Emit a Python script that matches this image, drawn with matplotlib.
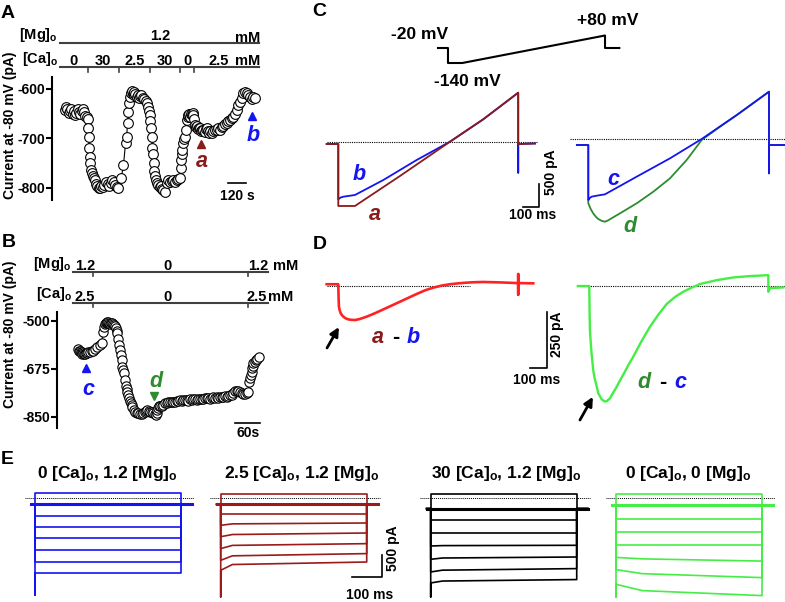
import matplotlib.pyplot as plt

W, H = 785, 602
plt.rcParams['font.family'] = ['Liberation Sans', 'DejaVu Sans']
plt.rcParams['font.weight'] = 'bold'
plt.rcParams['axes.unicode_minus'] = False
plt.rcParams['mathtext.fontset'] = 'custom'
plt.rcParams['mathtext.rm'] = 'Liberation Sans:bold'
plt.rcParams['mathtext.it'] = 'Liberation Sans:bold:italic'
plt.rcParams['mathtext.bf'] = 'Liberation Sans:bold'

DARKRED = '#8b1a1a'
BLUE = '#1414f0'
GREEN = '#2e8b2e'
LIME = '#44ee44'
RED = '#ff2222'
GREY = '#404040'

# ---------------- data ----------------
# A: holding current at -80 mV vs time (s, pA)
a_time = [22, 30, 38, 46, 55, 63, 72, 80, 88, 96, 105, 113, 121, 130, 138, 146, 155, 163, 170,
          174, 176, 179, 183, 187, 192, 197, 203, 210, 218, 226, 234, 242, 251, 260, 270, 280, 290,
          300, 310, 320, 330, 340, 350, 360, 371, 390, 404, 418, 425, 431, 436, 442, 447, 453, 458,
          464, 470, 476, 482, 490, 498, 506, 514, 522, 530, 540, 550, 558, 565, 571, 576, 580, 584,
          589, 593, 598, 602, 606, 611, 617, 624, 632, 640, 648, 656, 665, 676, 687, 698, 709, 720,
          731, 742, 752, 763, 774, 778, 780, 785, 789, 796, 802, 807, 813, 818, 824, 829, 835, 840,
          846, 851, 856, 861, 866, 872, 877, 883, 890, 897, 905, 912, 920, 927, 935, 942, 949, 956,
          963, 970, 981, 992, 1003, 1014, 1025, 1036, 1047, 1058, 1069, 1080, 1090, 1101, 1112, 1123,
          1134, 1145, 1156, 1167, 1178, 1189, 1200, 1210, 1221, 1232, 1243, 1254, 1265]
a_curr = [-643, -636, -641, -648, -645, -640, -650, -645, -652, -648, -641, -646, -650, -644, -640,
          -647, -655, -657, -661,
          -680, -697, -719, -738, -750, -764, -770, -776, -780, -784, -792, -797, -800, -800, -797,
          -799, -795, -789, -793, -797, -790, -785, -788, -795, -798, -801, -780, -755, -710, -697,
          -670, -646, -628, -616, -608, -605, -610, -613, -606, -610, -616, -612, -618, -615, -612,
          -618, -620, -624, -628, -636, -645, -652, -665, -680, -697, -720, -732, -750, -766, -776,
          -784, -790, -795, -798, -797, -802, -805, -808, -790, -784, -788, -786, -784, -788, -784,
          -782, -781, -760, -744, -732, -724, -710, -702, -697, -683, -663, -656, -653, -650, -656,
          -650, -653, -648, -653, -662, -673, -678, -676, -682, -679, -680, -686, -683, -683, -688,
          -682, -680, -686, -689, -686, -690, -686, -684, -683, -679, -683, -677, -676, -672, -670,
          -666, -663, -660, -656, -650, -643, -633, -626, -618, -609, -606, -609, -613, -616, -620,
          -616, -619]
a_yticks = [-600, -700, -800]
a_ca_switch = [172, 375, 578, 774, 868]
a_mark_t = [911, 1243]
a_mark_i = [-711, -655]

# B
b_time = [4, 6, 8, 10, 12, 14, 16, 18, 20, 22, 24, 28, 32, 36, 40, 45, 50, 55, 60, 64, 66, 68, 70,
          72, 74, 76, 78, 80, 82, 84, 87, 90, 92, 94, 96, 98, 100, 102, 104, 106, 108, 110, 112, 114,
          116, 118, 120, 122, 124, 126, 128, 130, 132, 134, 137, 140, 144, 148, 152, 156, 160, 164,
          167, 170, 173, 176, 180, 184, 187, 190, 192, 194, 196, 198, 201, 204, 208, 212, 216, 220,
          224, 228, 232, 236, 240, 244, 248, 252, 256, 260, 264, 268, 272, 276, 280, 284, 288, 292,
          296, 300, 304, 308, 312, 316, 320, 324, 328, 332, 336, 340, 344, 348, 352, 356, 360, 364,
          368, 372, 376, 380, 384, 388, 392, 396, 400, 404, 408, 412, 414, 416, 418, 420, 421, 423,
          424, 427, 430, 434, 437]
b_curr = [-604, -610, -609, -615, -613, -620, -619, -622, -621, -618, -619, -615, -613, -611, -609,
          -603, -597, -590, -580, -540, -522, -512, -508, -507, -505, -506, -509, -512, -508, -510,
          -512, -516, -520, -528, -536, -546, -568, -589, -607, -625, -643, -668, -680, -692, -716,
          -738, -749, -759, -771, -783, -792, -801, -809, -816, -824, -832, -836, -838, -840, -840,
          -836, -832, -829, -826, -830, -832, -834, -835, -840, -844, -835, -826, -818, -811, -812,
          -811, -806, -801, -799, -797, -795, -798, -796, -795, -792, -794, -789, -791, -790, -788,
          -789, -791, -787, -789, -787, -785, -788, -786, -787, -784, -786, -783, -783, -781, -784,
          -780, -779, -781, -778, -780, -779, -777, -779, -776, -777, -774, -772, -771, -763, -755,
          -757, -755, -760, -765, -766, -767, -763, -759, -722, -710, -698, -686, -674, -664, -656,
          -650, -643, -638, -634]
b_yticks = [-500, -675, -850]
b_switch = [39, 411]
b_mark_t = [22, 186]
b_mark_i = [-673, -773]

# C: voltage protocol (ms, mV)
prot_t = [0, 70, 70, 170, 1170, 1170, 1270]
prot_v = [-20, -20, -140, -140, 80, -20, -20]

# C: ramp currents (ms, pA)
ca_t = [0, 71, 71, 173, 449, 755, 959, 1173, 1173, 1276]
ca_i = [-52, -52, -1440, -1440, -768, 0, 502, 1098, -52, -40]
cb_t = [0, 71, 71, 86, 102, 173, 347, 551, 755, 959, 1173, 1173, 1173, 1276]
cb_i = [-52, -52, -1290, -1250, -1232, -1194, -858, -410, 0, 502, 1098, -694, -52, -40]
cc_t = [0, 70, 70, 80, 90, 121, 172, 366, 570, 764, 979, 1176, 1176, 1176, 1274]
cc_i = [-134, -134, -1366, -1320, -1292, -1270, -1239, -844, -433, 0, 538, 1060, -769, -134, -134]
cd_t = [0, 70, 70, 85, 100, 115, 130, 150, 172, 190, 215, 264, 366, 468, 570, 672, 764, 876, 979,
        1176, 1176, 1274]
cd_i = [-134, -134, -1441, -1570, -1665, -1735, -1790, -1830, -1852, -1825, -1770, -1665, -1441,
        -1180, -881, -470, -22, 276, 538, 1060, -134, -134]

# D: difference currents (ms, pA)
dab_t = [0, 71, 73, 75, 80, 86, 94, 102, 115, 132, 150, 173, 200, 245, 295, 347, 398, 449, 500,
         551, 602, 653, 704, 755, 806, 857, 908, 959, 1066, 1173, 1173, 1173, 1173, 1265]
dab_i = [8, 8, -55, -91, -108, -120, -129, -135, -142, -147, -149, -150, -146, -135, -120, -103,
         -86, -69, -52, -35, -19, -7, 2, 8, 12, 15, 17, 18, 16, 13, 53, -38, 13, 12]
ddc_t = [0, 70, 72, 74, 79, 84, 94, 102, 111, 125, 146, 166, 180, 197, 215, 238, 260, 288, 312,
         339, 390, 442, 494, 544, 595, 645, 697, 748, 850, 952, 1054, 1166, 1166, 1176, 1258]
ddc_i = [0, 0, -120, -194, -250, -297, -370, -405, -429, -473, -500, -510, -506, -495, -472, -444,
         -414, -378, -345, -312, -243, -179, -125, -79, -48, -25, -7, 9, 26, 38, 44, 48, -25, -9, -6]

# E: step families (pA); value at onset, at knee time, at end of 500 ms step
e_titles = [r'0 [Ca]$_\mathrm{o}$, 1.2 [Mg]$_\mathrm{o}$',
            r'2.5 [Ca]$_\mathrm{o}$, 1.2 [Mg]$_\mathrm{o}$',
            r'30 [Ca]$_\mathrm{o}$, 1.2 [Mg]$_\mathrm{o}$',
            r'0 [Ca]$_\mathrm{o}$, 0 [Mg]$_\mathrm{o}$']
e_hold = [-138, -145, -244, -168]
e_spike = [-2224, -2277, -2277, -2277]
e_knee_t = [40, 40, 40, 90]
e_start = [[115, -138, -407, -667, -920, -1192, -1461, -1714],
           [101, -145, -359, -628, -890, -1164, -1433, -1663],
           [101, -244, -513, -796, -1104, -1410, -1701, -1954],
           [101, -168, -490, -782, -1081, -1366, -1647, -1985]]
e_knee = [[115, -138, -407, -667, -920, -1192, -1461, -1714],
          [101, -145, -359, -595, -840, -1090, -1330, -1530],
          [101, -244, -513, -796, -1095, -1380, -1660, -1910],
          [101, -168, -490, -782, -1081, -1400, -1740, -2130]]
e_end = [[115, -138, -407, -667, -920, -1192, -1461, -1714],
         [101, -145, -359, -575, -805, -1050, -1279, -1472],
         [101, -244, -513, -796, -1088, -1357, -1624, -1876],
         [101, -168, -490, -782, -1081, -1451, -1831, -2245]]
e_colors = [BLUE, '#9b1b1b', 'black', LIME]

# ---------------- figure ----------------
fig = plt.figure(figsize=(W / 100, H / 100), dpi=100)


def px_axes(x0, y0, x1, y1, xlim, ylim):
    ax = fig.add_axes([x0 / W, 1 - y1 / H, (x1 - x0) / W, (y1 - y0) / H])
    ax.patch.set_visible(False)
    ax.set_xlim(*xlim)
    ax.set_ylim(*ylim)
    ax.axis('off')
    return ax


def ftext(x, y, s, **kw):
    kw.setdefault('ha', 'center')
    kw.setdefault('va', 'baseline')
    kw.setdefault('fontweight', 'bold')
    fig.text(x / W, 1 - y / H, s, **kw)


def scalebar(ax, x1, y0, dx, dy):
    ax.plot([x1 - dx, x1, x1], [y0, y0, y0 + dy], color='k', lw=1.2, clip_on=False)


# panel letters
for let, x, y in [('A', 8, 18), ('B', 9, 247), ('C', 319, 16), ('D', 320, 249), ('E', 7, 464)]:
    ftext(x, y, let, fontsize=14)

# ----- A -----
axA = px_axes(52, 77, 262, 200, (-63, 1310), (-825, -576))
axA.axis('on')
for s in ['top', 'right', 'bottom']:
    axA.spines[s].set_visible(False)
axA.spines['left'].set_linewidth(1.5)
axA.set_xticks([])
axA.set_yticks(a_yticks)
axA.tick_params(axis='y', length=4, width=1.5, labelsize=10, pad=1)
axA.plot(a_time, a_curr, color='k', lw=0.8, marker='o', ms=7, mfc='white', mec='k', mew=0.8,
         clip_on=False)
axA.plot([-11, 1290], [-507, -507], color=GREY, lw=1.5, clip_on=False)
axA.plot([-11, 1290], [-555, -555], color=GREY, lw=1.5, clip_on=False)
for t in a_ca_switch:
    axA.plot([t, t], [-555, -565], color=GREY, lw=1.2, clip_on=False)
axA.plot(a_mark_t[0], a_mark_i[0], marker='^', color=DARKRED, ms=6, clip_on=False)
axA.plot(a_mark_t[1], a_mark_i[1], marker='^', color=BLUE, ms=6, clip_on=False)
axA.plot([1088, 1208], [-791, -791], color='k', lw=1.2)
ftext(237, 200, '120 s', fontsize=10)
ftext(202, 167, 'a', fontsize=15.5, style='italic', color=DARKRED)
ftext(253, 141, 'b', fontsize=15.5, style='italic', color=BLUE)
ftext(10, 125, 'Current at -80 mV (pA)', rotation=90, fontsize=10, va='center')
ftext(58, 39, r'[Mg]$_\mathrm{o}$', ha='right', fontsize=10.5)
ftext(160, 40, '1.2', fontsize=10.5)
ftext(248, 42, 'mM', fontsize=10.5)
ftext(58, 63, r'[Ca]$_\mathrm{o}$', ha='right', fontsize=10.5)
for x, s in [(74, '0'), (103, '30'), (135, '2.5'), (165, '30'), (187, '0'), (219, '2.5'),
             (248, 'mM')]:
    ftext(x, 65, s, fontsize=10.5)

# ----- B -----
axB = px_axes(57, 308, 290, 428, (-47, 512), (-891, -454))
axB.axis('on')
for s in ['top', 'right', 'bottom']:
    axB.spines[s].set_visible(False)
axB.spines['left'].set_linewidth(1.5)
axB.spines['left'].set_bounds(-891, -470)
axB.set_xticks([])
axB.set_yticks(b_yticks)
axB.tick_params(axis='y', length=4, width=1.5, labelsize=10, pad=1)
axB.plot(b_time, b_curr, color='k', lw=0.8, marker='o', ms=6.7, mfc='white', mec='k', mew=0.8,
         clip_on=False)
axB.plot([-9, 459], [-322, -322], color=GREY, lw=1.5, clip_on=False)
axB.plot([-9, 459], [-435, -435], color=GREY, lw=1.5, clip_on=False)
for t in b_switch:
    for y0 in (-322, -435):
        axB.plot([t, t], [y0, y0 - 15], color=GREY, lw=1.2, clip_on=False)
axB.plot(b_mark_t[0], b_mark_i[0], marker='^', color=BLUE, ms=6, clip_on=False)
axB.plot(b_mark_t[1], b_mark_i[1], marker='v', color=GREEN, ms=6, clip_on=False)
axB.plot([380, 440], [-872, -872], color='k', lw=1.2, clip_on=False)
ftext(248, 437, '60s', fontsize=10)
ftext(88, 395, 'c', fontsize=15.5, style='italic', color=BLUE)
ftext(156, 387, 'd', fontsize=15.5, style='italic', color=GREEN)
ftext(10, 334, 'Current at -80 mV (pA)', rotation=90, fontsize=10, va='center')
ftext(72, 268, r'[Mg]$_\mathrm{o}$', ha='right', fontsize=10.5)
ftext(72, 298, r'[Ca]$_\mathrm{o}$', ha='right', fontsize=10.5)
for x, s in [(85, '1.2'), (167, '0'), (258, '1.2')]:
    ftext(x, 270, s, fontsize=10.5)
ftext(273, 270, 'mM', ha='left', fontsize=10.5)
for x, s in [(85, '2.5'), (167, '0'), (257, '2.5')]:
    ftext(x, 301, s, fontsize=10.5)
ftext(268, 301, 'mM', ha='left', fontsize=10.5)

# ----- C -----
axP = px_axes(430, 25, 625, 70, (-56, 1310), (-196, 164))
axP.plot(prot_t, prot_v, color='k', lw=1.5)
ftext(420, 39, '-20 mV', fontsize=12.5)
ftext(608, 25, '+80 mV', fontsize=12.5)
ftext(467, 86, '-140 mV', fontsize=12.5)

axC1 = px_axes(320, 85, 545, 215, (-41, 1337), (-1642, 1270))
axC1.plot([0, 1286], [0, 0], color='k', lw=0.8, ls=(0, (1, 1)))
axC1.plot(cb_t, cb_i, color=BLUE, lw=1.3)
axC1.plot(ca_t, ca_i, color=DARKRED, lw=1.3)
scalebar(axC1, 1302, -1456, 100, 500)
ftext(551, 172, '500 pA', rotation=90, fontsize=10, va='center')
ftext(533, 219, '100 ms', fontsize=10)
ftext(359, 180, 'b', fontsize=15.5, style='italic', color=BLUE)
ftext(375, 220, 'a', fontsize=15.5, style='italic', color=DARKRED)

axC2 = px_axes(570, 85, 785, 235, (-42, 1274), (-2150, 1210))
axC2.plot([-42, 1274], [0, 0], color='k', lw=0.8, ls=(0, (1, 1)))
axC2.plot(cd_t, cd_i, color=GREEN, lw=1.3)
axC2.plot(cc_t, cc_i, color=BLUE, lw=1.3)
ftext(613, 185, 'c', fontsize=15.5, style='italic', color=BLUE)
ftext(630, 232, 'd', fontsize=15.5, style='italic', color=GREEN)

# ----- D -----
axD1 = px_axes(320, 255, 560, 420, (-41, 1429), (-591, 137))
axD1.plot([0, 880], [0, 0], color='k', lw=0.8, ls=(0, (1, 1)))
axD1.plot(dab_t, dab_i, color=RED, lw=1.9)
scalebar(axD1, 1347, -363, 100, 250)
axD1.annotate('', xy=(75, -181), xytext=(2, -273),
              arrowprops=dict(arrowstyle='-|>', color='k', lw=2, mutation_scale=13,
                              shrinkA=0, shrinkB=0))
ftext(557, 334, '250 pA', rotation=90, fontsize=10, va='center')
ftext(537, 384, '100 ms', fontsize=10)
ftext(378, 343, 'a', fontsize=15.5, style='italic', color=DARKRED)
ftext(396, 343, '-', fontsize=15.5)
ftext(413, 343, 'b', fontsize=15.5, style='italic', color=BLUE)

axD2 = px_axes(570, 255, 785, 420, (-48, 1268), (-591, 137))
axD2.plot([-7, 1268], [0, 0], color='k', lw=0.8, ls=(0, (1, 1)))
axD2.plot(ddc_t, ddc_i, color=LIME, lw=1.7)
axD2.annotate('', xy=(92, -489), xytext=(13, -591),
              arrowprops=dict(arrowstyle='-|>', color='k', lw=2, mutation_scale=13,
                              shrinkA=0, shrinkB=0))
ftext(644, 388, 'd', fontsize=15.5, style='italic', color=GREEN)
ftext(663, 388, '-', fontsize=15.5)
ftext(680, 388, 'c', fontsize=15.5, style='italic', color=BLUE)

# ----- E -----
e_onset_px = [35, 220.7, 430.7, 616]
e_title_px = [107, 302, 506, 688]
for k in range(4):
    x0 = e_onset_px[k]
    ax = px_axes(x0 - 15, 485, x0 + 165, 600, (-51.4, 565), (-2346, 299))
    col = e_colors[k]
    ax.plot([-35, 545], [0, 0], color='k', lw=0.7, ls=(0, (1, 1)))
    hold = e_hold[k]
    ax.plot([-14, 538], [hold, hold], color=col, lw=2.2)
    n = len(e_start[k])
    for j in range(n):
        ts = [-14, 0, 0]
        vs = [hold, hold, e_start[k][j]]
        if j == n - 1:
            ts = [-14, 0, 0, 0]
            vs = [hold, hold, e_spike[k], e_start[k][j]]
        ts += [e_knee_t[k], 500, 500, 538]
        vs += [e_knee[k][j], e_end[k][j], hold, hold]
        ax.plot(ts, vs, color=col, lw=1.2)
    ftext(e_title_px[k], 478, e_titles[k], fontsize=12.5)
    if k == 1:
        scalebar(ax, 551, -1810, 100, 500)
        ftext(393, 548, '500 pA', rotation=90, fontsize=10, va='center')
        ftext(370, 599, '100 ms', fontsize=10)

fig.savefig('out.png', dpi=100)
